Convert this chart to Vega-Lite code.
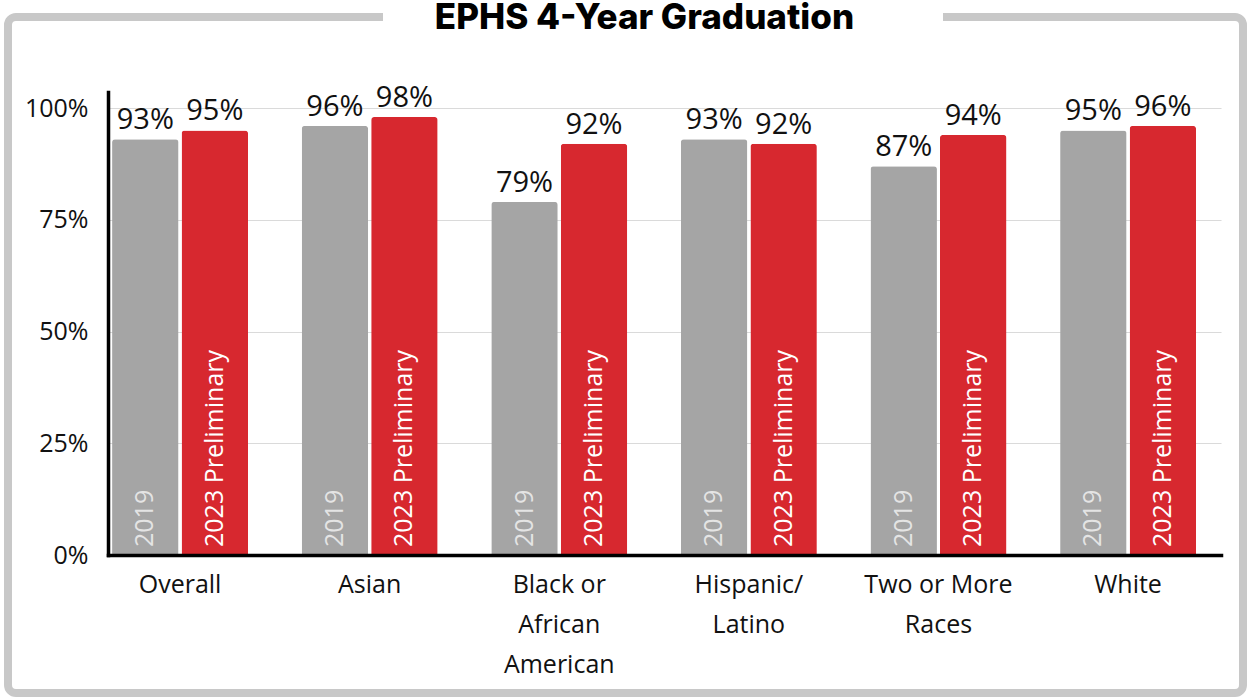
{
  "$schema": "https://vega.github.io/schema/vega-lite/v6.json",
  "width": 1235,
  "height": 676,
  "autosize": {"type": "none"},
  "padding": {"left": 8, "top": 17, "right": 4, "bottom": 4},
  "background": "white",
  "config": {
    "view": {"stroke": "#c8c8c8", "strokeWidth": 8, "cornerRadius": 8, "strokeDash": [367, 560, 5000]}
  },
  "title": {
    "text": "EPHS 4-Year Graduation",
    "font": "Inter",
    "fontWeight": 800,
    "fontSize": 35,
    "color": "black",
    "anchor": "middle",
    "frame": "group",
    "baseline": "alphabetic",
    "offset": -47,
    "dx": 19
  },
  "data": {
    "values": [
      {"group": "Overall", "year": "2019", "rate": 0.93},
      {"group": "Overall", "year": "2023 Preliminary", "rate": 0.95},
      {"group": "Asian", "year": "2019", "rate": 0.96},
      {"group": "Asian", "year": "2023 Preliminary", "rate": 0.98},
      {"group": "Black or African American", "year": "2019", "rate": 0.79},
      {"group": "Black or African American", "year": "2023 Preliminary", "rate": 0.92},
      {"group": "Hispanic/Latino", "year": "2019", "rate": 0.93},
      {"group": "Hispanic/Latino", "year": "2023 Preliminary", "rate": 0.92},
      {"group": "Two or More Races", "year": "2019", "rate": 0.87},
      {"group": "Two or More Races", "year": "2023 Preliminary", "rate": 0.94},
      {"group": "White", "year": "2019", "rate": 0.95},
      {"group": "White", "year": "2023 Preliminary", "rate": 0.96}
    ]
  },
  "encoding": {
    "x": {
      "field": "group",
      "type": "nominal",
      "sort": null,
      "scale": {"range": [100, 1213], "paddingInner": 0.283, "paddingOuter": 0.0765, "align": 0.14},
      "axis": {
        "orient": "bottom",
        "offset": -138,
        "title": null,
        "ticks": false,
        "domainColor": "black",
        "domainWidth": 3.5,
        "domainCap": "square",
        "zindex": 1,
        "labelAngle": 0,
        "labelFont": "Open Sans",
        "labelFontSize": 25,
        "labelColor": "#111111",
        "labelPadding": 17,
        "labelLineHeight": 40,
        "labelExpr": "datum.value == 'Black or African American' ? ['Black or', 'African', 'American'] : datum.value == 'Hispanic/Latino' ? ['Hispanic/', 'Latino'] : datum.value == 'Two or More Races' ? ['Two or More', 'Races'] : datum.value"
      }
    },
    "xOffset": {"field": "year", "type": "nominal", "sort": null, "scale": {"paddingInner": 0.044, "paddingOuter": 0}}
  },
  "layer": [
    {
      "mark": {"type": "bar", "cornerRadiusTopLeft": 3, "cornerRadiusTopRight": 3},
      "encoding": {
        "y": {
          "field": "rate",
          "type": "quantitative",
          "scale": {"domain": [0, 1.036], "range": [538, 75], "nice": false, "zero": true},
          "axis": {
            "orient": "left",
            "offset": -100,
            "values": [0, 0.25, 0.5, 0.75, 1],
            "format": ".0%",
            "title": null,
            "ticks": false,
            "domainColor": "black",
            "domainWidth": 3.5,
            "domainCap": "square",
            "grid": true,
            "gridColor": "#dadada",
            "gridWidth": 1.2,
            "labelFont": "Open Sans",
            "labelFontSize": 25,
            "labelColor": "#111111",
            "labelPadding": 20
          }
        },
        "color": {
          "field": "year",
          "type": "nominal",
          "scale": {"domain": ["2019", "2023 Preliminary"], "range": ["#a5a5a5", "#d7282f"]},
          "legend": null
        }
      }
    },
    {
      "mark": {"type": "text", "baseline": "alphabetic", "dy": -10, "font": "Open Sans", "fontSize": 29, "color": "#111111"},
      "encoding": {
        "y": {"field": "rate", "type": "quantitative"},
        "text": {"field": "rate", "type": "quantitative", "format": ".0%"}
      }
    },
    {
      "mark": {"type": "text", "angle": 270, "align": "left", "baseline": "middle", "dx": 8, "font": "Open Sans", "fontSize": 25},
      "encoding": {
        "y": {"datum": 0, "type": "quantitative"},
        "text": {"field": "year", "type": "nominal"},
        "fill": {"condition": {"test": "datum.year == '2019'", "value": "#e4e4e4"}, "value": "#ffffff"}
      }
    }
  ]
}
